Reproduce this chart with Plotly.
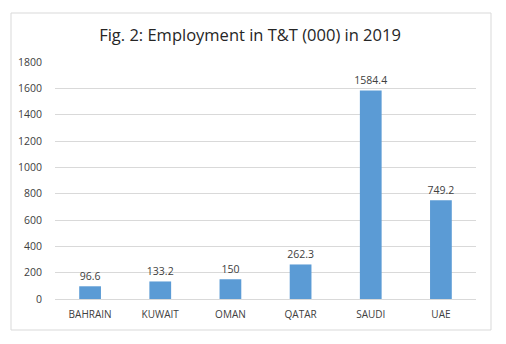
import plotly.graph_objects as go

countries = ["BAHRAIN", "KUWAIT", "OMAN", "QATAR", "SAUDI", "UAE"]
employment = [96.6, 133.2, 150, 262.3, 1584.4, 749.2]
value_labels = ["96.6", "133.2", "150", "262.3", "1584.4", "749.2"]
y_ticks = [0, 200, 400, 600, 800, 1000, 1200, 1400, 1600, 1800]

W, H = 506, 344
L, R, T, B = 55, 30, 62, 45
pw, ph = W - L - R, H - T - B

def px_x(x):
    return (x - L) / pw

def px_y(y):
    return (H - B - y) / ph

fig = go.Figure(
    go.Bar(
        x=countries,
        y=employment,
        marker=dict(color="#5B9BD5", line=dict(width=0)),
        text=value_labels,
        textposition="outside",
        textfont=dict(size=10.5, color="#404040", family="Open Sans"),
        cliponaxis=False,
    )
)

# chart frame
fig.add_shape(
    type="rect", xref="paper", yref="paper",
    x0=px_x(11), x1=px_x(491), y0=px_y(330), y1=px_y(13),
    line=dict(color="#d9d9d9", width=1), fillcolor="rgba(0,0,0,0)",
)

fig.update_layout(
    width=W, height=H,
    margin=dict(l=L, r=R, t=T, b=B),
    paper_bgcolor="white", plot_bgcolor="white",
    bargap=0.69,
    showlegend=False,
    uniformtext=dict(minsize=10.5, mode="show"),
    font=dict(family="Open Sans", color="#595959", size=10),
    title=dict(
        text="Fig. 2: Employment in T&T (000) in 2019",
        x=250 / W, xanchor="center", xref="container",
        y=1 - 35 / H, yanchor="middle", yref="container",
        font=dict(size=16.5, color="#262626", family="Open Sans"),
    ),
    xaxis=dict(
        showgrid=False, showline=False, ticks="",
        ticklabelstandoff=8,
        tickfont=dict(size=10, color="#404040"),
    ),
    yaxis=dict(
        range=[0, 1800], tickvals=y_ticks,
        showgrid=True, gridcolor="#d9d9d9", gridwidth=1,
        zeroline=True, zerolinecolor="#d9d9d9", zerolinewidth=1,
        showline=False, ticks="", ticklen=0,
        ticklabelstandoff=12,
        tickfont=dict(size=10.5, color="#404040"),
    ),
)

fig.write_html("out.html")
